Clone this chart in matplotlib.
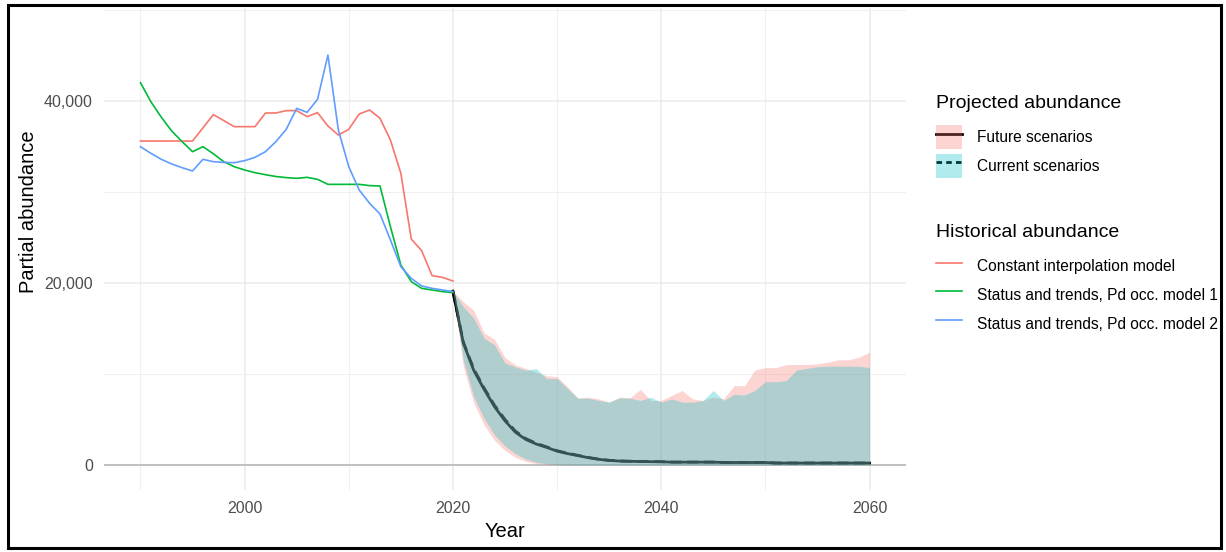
import numpy as np
import matplotlib
matplotlib.use("Agg")
from matplotlib import pyplot as plt
from matplotlib import patches
from matplotlib.lines import Line2D
from matplotlib.legend_handler import HandlerTuple
from matplotlib.ticker import FuncFormatter, MultipleLocator

plt.rcParams['font.family'] = ['Liberation Sans', 'DejaVu Sans']

# historical abundance, 1990-2020
hist_years = list(range(1990, 2021))
constant_interp = [35600, 35600, 35600, 35600, 35600, 35600, 37050, 38500, 37850, 37180,
                   37180, 37180, 38680, 38680, 38940, 38940, 38280, 38720, 37250, 36260,
                   36890, 38570, 39010, 38100, 35710, 32050, 24830, 23550, 20810, 20620,
                   20220]
status_model1 = [42010, 39920, 38220, 36700, 35530, 34430, 34980, 34200, 33330, 32780,
                 32420, 32120, 31900, 31700, 31580, 31500, 31610, 31390, 30840, 30840,
                 30840, 30840, 30700, 30660, 26190, 21980, 20150, 19410, 19230, 19050,
                 18940]
status_model2 = [34980, 34250, 33590, 33080, 32670, 32310, 33590, 33330, 33250, 33220,
                 33440, 33810, 34430, 35530, 36890, 39190, 38750, 40180, 45050, 36810,
                 32780, 30220, 28760, 27580, 24730, 21790, 20510, 19670, 19410, 19230,
                 19050]

# projected abundance, 2020-2060
proj_years = list(range(2020, 2061))
future_median = [19100, 13400, 10400, 8300, 6400, 4850, 3600, 2800, 2300, 1930,
                 1520, 1250, 1030, 800, 620, 500, 430, 400, 380, 360,
                 350, 310, 310, 310, 310, 310, 270, 270, 270, 270,
                 270, 210, 210, 210, 210, 210, 210, 210, 210, 210,
                 210]
future_lower = [19100, 10800, 6800, 4400, 2700, 1600, 850, 380, 150, 50,
                10, 0, 0, 0, 0, 0, 0, 0, 0, 0,
                0, 0, 0, 0, 0, 0, 0, 0, 0, 0,
                0, 0, 0, 0, 0, 0, 0, 0, 0, 0,
                0]
future_upper = [19100, 17950, 17000, 14500, 13800, 11800, 11000, 10600, 10200, 9800,
                9700, 8600, 7350, 7450, 7270, 6900, 7450, 7380, 8300, 7090,
                7090, 7640, 8190, 7270, 7090, 7450, 7270, 8740, 8700, 10440,
                10700, 10700, 11040, 11040, 11040, 11120, 11300, 11560, 11560, 11850,
                12400]
current_median = [19100, 13500, 10550, 8450, 6550, 5000, 3720, 2900, 2380, 1990,
                  1570, 1290, 1060, 830, 640, 510, 440, 410, 390, 370,
                  360, 320, 320, 320, 320, 320, 280, 280, 280, 280,
                  280, 220, 220, 220, 220, 220, 220, 220, 220, 220,
                  220]
current_lower = [19100, 11500, 7500, 5100, 3300, 2100, 1250, 650, 300, 120,
                 40, 0, 0, 0, 0, 0, 0, 0, 0, 0,
                 0, 0, 0, 0, 0, 0, 0, 0, 0, 0,
                 0, 0, 0, 0, 0, 0, 0, 0, 0, 0,
                 0]
current_upper = [19100, 17400, 16120, 13920, 13200, 11200, 10780, 10420, 10600, 9500,
                 9500, 8400, 7340, 7340, 7090, 6900, 7380, 7340, 7090, 7450,
                 6900, 7270, 6900, 6900, 7090, 8190, 7090, 7780, 7690, 8200,
                 9150, 9150, 9270, 10440, 10620, 10800, 10860, 10860, 10860, 10860,
                 10700]

red = '#F8766D'
green = '#00BA38'
blue = '#619CFF'
teal = '#00BFC4'

fig = plt.figure(figsize=(12.26, 5.52), dpi=100)
ax = fig.add_axes([104 / 1226, 62 / 552, 802 / 1226, 482 / 552])

# theme_minimal-like panel
for s in ax.spines.values():
    s.set_visible(False)
ax.xaxis.set_major_locator(MultipleLocator(20))
ax.xaxis.set_minor_locator(MultipleLocator(10))
ax.yaxis.set_major_locator(MultipleLocator(20000))
ax.yaxis.set_minor_locator(MultipleLocator(10000))
ax.grid(which='major', color='#EBEBEB', lw=1.1, zorder=0)
ax.grid(which='minor', color='#F0F0F0', lw=0.8, zorder=0)
ax.set_axisbelow(True)
ax.tick_params(which='both', length=0)
ax.tick_params(axis='both', labelsize=11.5, labelcolor='#4D4D4D')
ax.tick_params(axis='y', pad=8)
ax.tick_params(axis='x', pad=8)
ax.yaxis.set_major_formatter(FuncFormatter(lambda v, p: f'{int(v):,}'))

ax.axhline(0, color='#BDBDBD', lw=1.3, zorder=1)

# medians drawn first so the ribbons tint them
ax.plot(proj_years, future_median, color='black', lw=2.0, zorder=2)
ax.plot(proj_years, current_median, color='black', lw=2.0, ls=(0, (4, 2)), zorder=2)
ax.fill_between(proj_years, future_lower, future_upper, color=red, alpha=0.3,
                lw=0, zorder=3)
ax.fill_between(proj_years, current_lower, current_upper, color=teal, alpha=0.3,
                lw=0, zorder=3)

ax.plot(hist_years, constant_interp, color=red, lw=1.2, zorder=4)
ax.plot(hist_years, status_model1, color=green, lw=1.2, zorder=4)
ax.plot(hist_years, status_model2, color=blue, lw=1.2, zorder=4)

ax.set_xlim(1986.5, 2063.5)
ax.set_ylim(-2750, 50220)
ax.set_xlabel('Year', fontsize=14.5, labelpad=4.5)
ax.set_ylabel('Partial abundance', fontsize=14.5)
ax.yaxis.set_label_coords(-0.082, 0.577)

# legends
leg_kw = dict(frameon=False, fontsize=11.2, title_fontsize=14, alignment='left',
              borderpad=0, borderaxespad=0, handlelength=1.68, handleheight=1.95,
              handletextpad=0.95, labelspacing=0.34)

fut_key = (Line2D([], [], color='black', lw=2.0),
           patches.Patch(facecolor=red, alpha=0.3, lw=0))
cur_key = (Line2D([], [], color='black', lw=2.0, ls=(0, (2, 1.5))),
           patches.Patch(facecolor=teal, alpha=0.3, lw=0))
leg1 = fig.legend([fut_key, cur_key], ['Future scenarios', 'Current scenarios'],
                  title='Projected abundance', loc='upper left',
                  bbox_to_anchor=(936 / 1226, 1 - 95 / 552),
                  handler_map={tuple: HandlerTuple(ndivide=1, pad=0)}, **leg_kw)

hist_keys = [Line2D([], [], color=c, lw=1.2) for c in (red, green, blue)]
leg2 = fig.legend(hist_keys, ['Constant interpolation model',
                              'Status and trends, Pd occ. model 1',
                              'Status and trends, Pd occ. model 2'],
                  title='Historical abundance', loc='upper left',
                  bbox_to_anchor=(936 / 1226, 1 - 224 / 552), **leg_kw)

# more room between each legend title and its keys
for leg in (leg1, leg2):
    leg._legend_box.sep = 9.5

# frame round the whole figure
fig.patches.append(patches.Rectangle((8 / 1226, 4 / 552), 1213 / 1226, 543 / 552,
                                     transform=fig.transFigure, fill=False,
                                     edgecolor='black', lw=2.2, zorder=10))

fig.savefig('out.png', dpi=100)
